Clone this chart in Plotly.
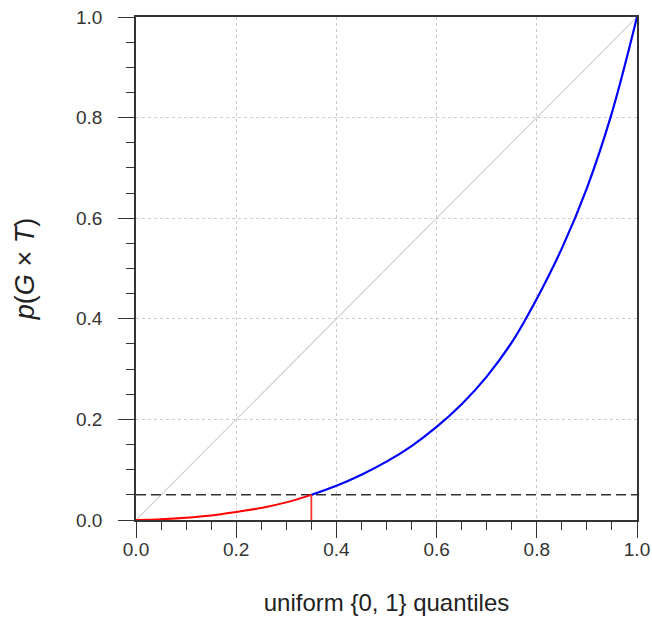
import plotly.graph_objects as go

# sorted p-values vs uniform quantiles
quantiles = [0.0, 0.05, 0.1, 0.15, 0.2, 0.25, 0.3, 0.35, 0.4, 0.45, 0.5,
             0.55, 0.6, 0.65, 0.7, 0.75, 0.8, 0.85, 0.9, 0.95, 1.0]
pvals = [0.0, 0.0015, 0.0045, 0.009, 0.016, 0.024, 0.035, 0.050, 0.068, 0.090, 0.116,
         0.147, 0.185, 0.230, 0.285, 0.353, 0.440, 0.540, 0.660, 0.810, 1.0]
alpha = 0.05
cutoff = 0.35

tick_vals = [0.0, 0.2, 0.4, 0.6, 0.8, 1.0]
tick_text = ["0.0", "0.2", "0.4", "0.6", "0.8", "1.0"]

red_x = [q for q, p in zip(quantiles, pvals) if p <= alpha]
red_y = [p for p in pvals if p <= alpha]
blue_x = [q for q, p in zip(quantiles, pvals) if p >= alpha]
blue_y = [p for p in pvals if p >= alpha]

axcol = "#333333"
font = "Liberation Sans, Arial, sans-serif"

fig = go.Figure()
# diagonal reference
fig.add_trace(go.Scatter(x=[0, 1], y=[0, 1], mode="lines",
                         line=dict(color="#d0d0d0", width=1.2), hoverinfo="skip"))
# alpha level
fig.add_trace(go.Scatter(x=[0, 1], y=[alpha, alpha], mode="lines",
                         line=dict(color=axcol, width=1.5, dash="10px,5px")))
fig.add_trace(go.Scatter(x=red_x, y=red_y, mode="lines", line_shape="spline",
                         line=dict(color="#ff0000", width=2)))
fig.add_trace(go.Scatter(x=blue_x, y=blue_y, mode="lines", line_shape="spline",
                         line=dict(color="#0000ff", width=2.2)))
fig.add_shape(type="line", xref="x", yref="y", x0=cutoff, x1=cutoff, y0=0, y1=alpha,
              line=dict(color="#ff3333", width=1.8))

axis_common = dict(
    range=[0, 1], showline=True, linecolor=axcol, linewidth=1.5, mirror=True,
    ticks="outside", ticklen=16, tickwidth=1.3, tickcolor=axcol,
    showgrid=True, gridcolor="#cccccc", gridwidth=1, griddash="dot",
    zeroline=False, tickfont=dict(size=19, color=axcol, family=font),
    tickvals=tick_vals, ticktext=tick_text, ticklabeloverflow="allow",
    minor=dict(dtick=0.05, ticks="outside", ticklen=8, tickwidth=1.3,
               tickcolor=axcol, showgrid=False),
)

fig.update_xaxes(**axis_common, ticklabelstandoff=-5,
                 title=dict(text="uniform {0, 1} quantiles", standoff=36,
                            font=dict(size=24, color="#222222", family=font)))
fig.update_yaxes(**axis_common, ticklabelstandoff=12,
                 title=dict(text="<i>p</i>(<i>G</i> × <i>T</i>)", standoff=34,
                            font=dict(size=27, color="#222222", family=font)))

fig.update_layout(
    width=652, height=632, showlegend=False,
    plot_bgcolor="white", paper_bgcolor="white",
    margin=dict(l=136, r=15, t=17, b=112, autoexpand=False),
)

fig.write_html("out.html", config={"displayModeBar": False},
               post_script="document.body.style.margin='0';")
